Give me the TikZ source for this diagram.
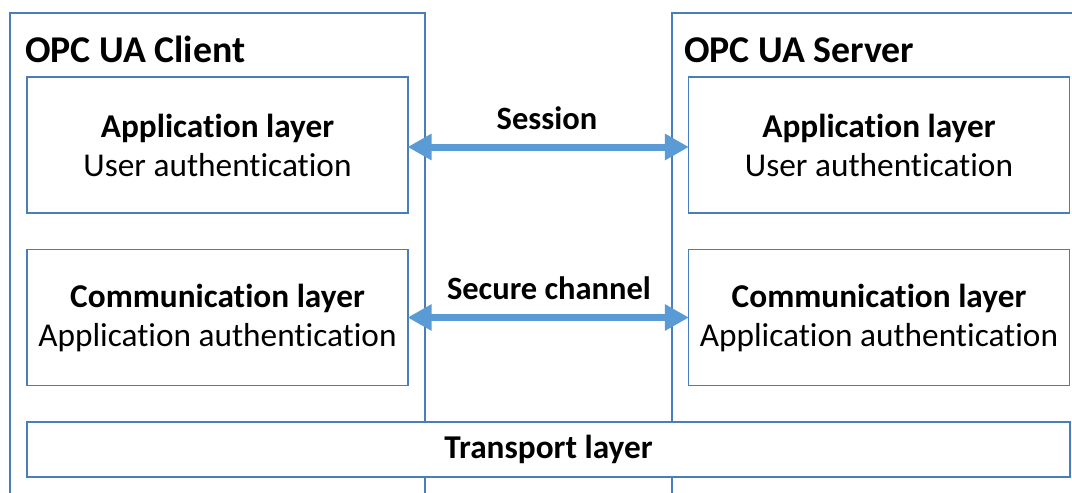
\documentclass[tikz,border=0pt]{standalone}
\usepackage{fontspec}
\setmainfont[Ligatures=NoCommon]{Carlito}
\usetikzlibrary{arrows.meta}
\definecolor{boxline}{HTML}{4A7EBB}
\definecolor{arrowblue}{HTML}{5B9BD5}
\tikzset{
  layer/.style={draw=boxline, line width=1.2pt, fill=white, align=center,
    minimum width=381pt, minimum height=136pt, inner sep=0pt,
    font=\fontsize{33.3}{39}\selectfont},
  link/.style={{Triangle[length=24pt,width=25pt]}-{Triangle[length=24pt,width=25pt]},
    draw=arrowblue, line width=7pt, shorten <=-1pt, shorten >=-1pt},
  title/.style={font=\fontsize{37.8}{44}\selectfont\bfseries, anchor=base west, inner sep=0pt},
  linklabel/.style={font=\fontsize{32.5}{38}\selectfont\bfseries, inner sep=0pt}
}
\begin{document}
\begin{tikzpicture}[x=1pt,y=-1pt]
\useasboundingbox (0,0) rectangle (1072,493);
% frames of client and server, open at the bottom
\draw[boxline, line width=1.2pt] (10,493) -- (10,13) -- (425,13) -- (425,493);
\draw[boxline, line width=1.2pt] (672,493) -- (672,13) -- (1072,13);
\node[title] (clienttitle) at (25,62) {OPC UA Client};
\node[title] (servertitle) at (684,62) {OPC UA Server};
% layers
\node[layer] (clientapp) at (217.5,145) {\textbf{Application layer}\\User authentication};
\node[layer] (serverapp) at (879,145) {\textbf{Application layer}\\User authentication};
\node[layer] (clientcom) at (217.5,317.5) {\textbf{Communication layer}\\Application authentication};
\node[layer] (servercom) at (879,317.5) {\textbf{Communication layer}\\Application authentication};
\node[layer, minimum width=1043pt, minimum height=55pt] (transport) at (548.5,449.5) {\textbf{Transport layer}};
% connections
\draw[link] (clientapp.east) ++(0,2) coordinate (sessA) -- (sessA -| serverapp.west);
\draw[link] (clientcom.east) -- (servercom.west);
\node[linklabel] (session) at (547,118) {Session};
\node[linklabel] (secure) at (549,288) {Secure channel};
\end{tikzpicture}
\end{document}
